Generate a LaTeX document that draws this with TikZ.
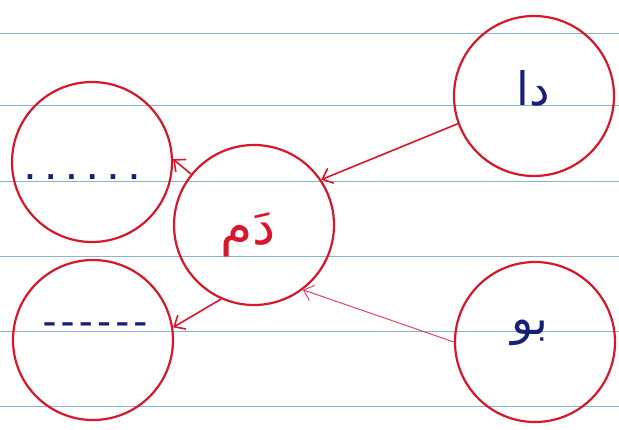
\documentclass[tikz,border=0pt]{standalone}
\usepackage{fontspec}
\usetikzlibrary{arrows.meta,positioning}
\newfontfamily\urdufont[Script=Arabic]{DejaVu Sans}
\newfontfamily\inkfont{DejaVu Sans}
\TeXXeTstate=1
\definecolor{penred}{RGB}{214,24,44}
\definecolor{penpink}{RGB}{226,70,100}
\definecolor{inkblue}{RGB}{22,32,120}
\definecolor{ruled}{RGB}{140,180,200}

\begin{document}
\begin{tikzpicture}[x=1pt,y=1pt,>={Straight Barb[length=9pt,width=16pt]},
  bubble/.style={circle,draw=penred,line width=2.2pt,minimum size=160pt,inner sep=0pt},
  word/.style={inner sep=0pt,font=\urdufont\fontsize{46}{50}\selectfont},
  blank/.style={inner sep=0pt,text=inkblue,font=\inkfont\bfseries\fontsize{26}{30}\selectfont},
  link/.style={->,draw=penred,line width=1.6pt}]
\useasboundingbox[fill=white] (0,0) rectangle (619,-429);
% ruled paper
\foreach \y in {33,105,181,256,331,406}
  \draw[ruled,line width=0.9pt] (0,-\y) -- (619,-\y);
% circles
\node[bubble] (dal) at (534,-96) {};
\node[bubble] (dam) at (254,-225) {};
\node[bubble] (bu) at (535,-342) {};
\node[bubble] (blanktop) at (92,-162) {};
\node[bubble] (blankbottom) at (93,-340) {};
% words
\node[word,text=inkblue] (dalword) at (533,-88) {\beginR دا\endR};
\node[word,text=penred,font=\urdufont\fontsize{52}{56}\selectfont] (damword) at (248,-235) {\beginR دَم\endR};
\node[word,text=inkblue] (buword) at (530,-333) {\beginR بو\endR};
\node[blank] (dots) at (82,-177) {\addfontfeatures{LetterSpace=42}......};
\node[blank] (dashes) at (95,-327) {\addfontfeatures{LetterSpace=20}––––––};
% arrows
\draw[link] (dal.200) -- (dam.34);
\draw[link,draw=penpink,line width=1pt] (bu.180) -- (dam.307);
\draw[link] (dam.141) -- (blanktop.2);
\draw[link] (dam.246) -- (blankbottom.9);
\end{tikzpicture}
\end{document}
